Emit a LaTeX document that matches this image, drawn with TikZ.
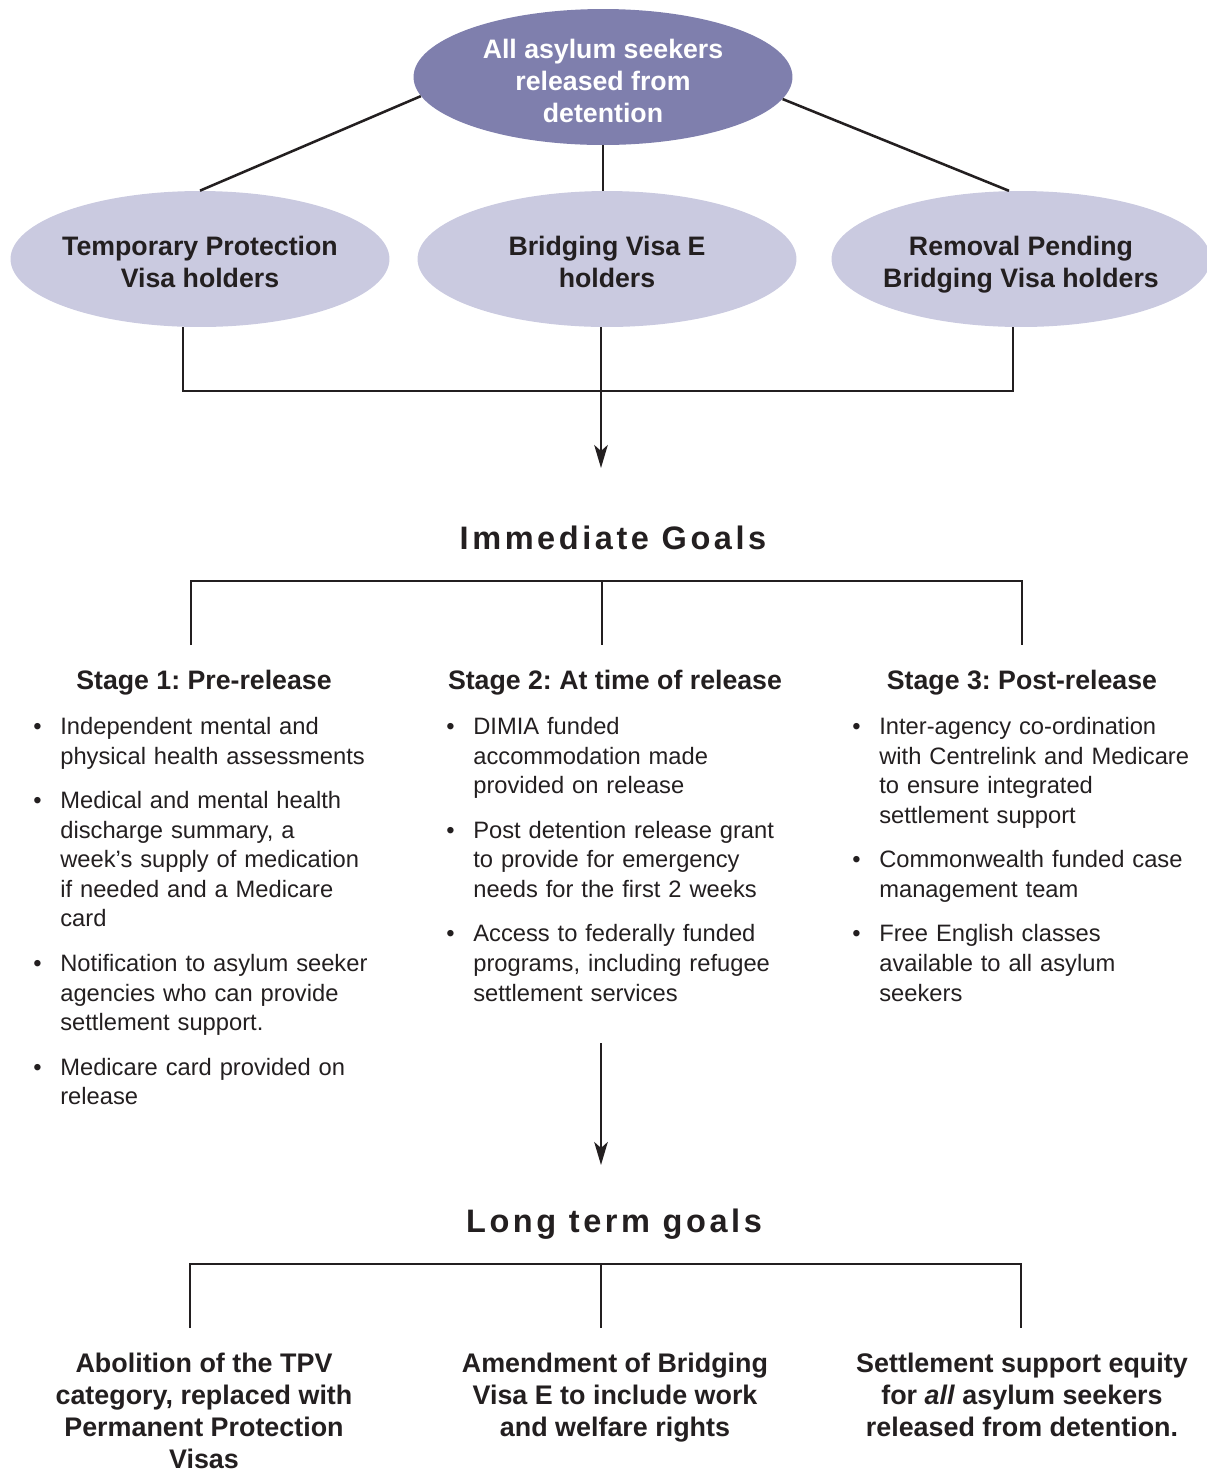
\documentclass[tikz,border=0pt]{standalone}
\usepackage{fontspec}
\setmainfont{Liberation Sans}
\newfontfamily\spacedfont[LetterSpace=11]{Liberation Sans}
\usepackage{enumitem}
\usetikzlibrary{shapes.geometric}
\usetikzlibrary{arrows.meta}
\frenchspacing

\definecolor{ovaldark}{HTML}{7F7FAD}
\definecolor{ovallight}{HTML}{CACAE0}
\definecolor{inkline}{HTML}{231F20}

\setlist[itemize]{label=\textbullet, leftmargin=0.54cm, labelwidth=0.54cm, labelsep=0pt, align=left,
  topsep=0pt, partopsep=0pt, parsep=0pt, itemsep=0.3cm}

\tikzset{
  oval/.style={ellipse, fill=#1, inner xsep=-8pt, inner ysep=0pt, minimum width=7.58cm, minimum height=2.72cm,
    align=center, text height=32.8pt, text depth=0pt, text=inkline,
    font=\fontsize{15.2}{18.3}\selectfont\bfseries},
  link/.style={draw=inkline, line width=1.45pt},
  godown/.style={link, -{Stealth[length=0.46cm, width=0.27cm, inset=0.12cm]}},
  goaltitle/.style={anchor=base, text=inkline, font=\fontsize{18.5}{22}\spacedfont\bfseries},
  stagehead/.style={anchor=base, text=inkline, font=\fontsize{15.2}{18.3}\selectfont\bfseries},
  stagelist/.style={anchor=north west, inner sep=0pt, text width=7.4cm, align=left, text=inkline,
    font=\fontsize{13.5}{16.8}\selectfont},
  longgoal/.style={anchor=north, inner sep=0pt, align=center, text=inkline,
    font=\fontsize{15.3}{18.2}\selectfont\bfseries},
}

\begin{document}
\begin{tikzpicture}[x=0.02cm, y=-0.02cm]
  \useasboundingbox (0,0) rectangle (1207,1472);

  % who is released
  \node[oval=ovaldark, text=white, text height=52.3pt] (released) at (603,77) {All asylum seekers\\released from\\detention};
  \node[oval=ovallight] (tpv) at (200,259) {Temporary Protection\\Visa holders};
  \node[oval=ovallight] (bve) at (607,259) {Bridging Visa E\\holders};
  \node[oval=ovallight] (rpbv) at (1021,259) {Removal Pending\\Bridging Visa holders};

  \draw[link] (released.186) -- (tpv.north);
  \draw[link] (released.south) -- (released.south |- bve.north);
  \draw[link] (released.-7) -- (rpbv.100);

  \coordinate (joinL) at (183,391);
  \coordinate (joinR) at (1013,391);
  \coordinate (tipA) at (601,468);
  \draw[link] (tpv.south -| joinL) -- (joinL) -- (joinR) -- (rpbv.south -| joinR);
  \draw[godown] (bve.south -| tipA) -- (tipA);

  % immediate goals
  \node[goaltitle] (immediate) at (613,549) {Immediate Goals};
  \coordinate (barL1) at (191,581);
  \coordinate (barR1) at (1022,581);
  \coordinate (stemL1) at (191,645);
  \coordinate (stemM1) at (602,645);
  \coordinate (stemR1) at (1022,645);
  \draw[link] (stemL1) -- (barL1) -- (barR1) -- (stemR1);
  \draw[link] (stemM1 |- barL1) -- (stemM1);

  \node[stagehead] (stage1) at (204,689) {Stage 1: Pre-release};
  \node[stagehead] (stage2) at (615,689) {Stage 2: At time of release};
  \node[stagehead] (stage3) at (1022,689) {Stage 3: Post-release};

  \node[stagelist] (list1) at (33,705) {\begin{itemize}
    \item Independent mental and\\physical health assessments
    \item Medical and mental health\\discharge summary, a\\week’s supply of medication\\if needed and a Medicare\\card
    \item Notification to asylum seeker\\agencies who can provide\\settlement support.
    \item Medicare card provided on\\release
  \end{itemize}};
  \node[stagelist] (list2) at (446,705) {\begin{itemize}
    \item DIMIA funded\\accommodation made\\provided on release
    \item Post detention release grant\\to provide for emergency\\needs for the first 2 weeks
    \item Access to federally funded\\programs, including refugee\\settlement services
  \end{itemize}};
  \node[stagelist] (list3) at (852,705) {\begin{itemize}
    \item Inter-agency co-ordination\\with Centrelink and Medicare\\to ensure integrated\\settlement support
    \item Commonwealth funded case\\management team
    \item Free English classes\\available to all asylum\\seekers
  \end{itemize}};

  \coordinate (tailB) at (601,1043);
  \coordinate (tipB) at (601,1165);
  \draw[godown] (tailB) -- (tipB);

  % long term goals
  \node[goaltitle] (longterm) at (614,1232) {Long term goals};
  \coordinate (barL2) at (190,1264);
  \coordinate (barR2) at (1021,1264);
  \coordinate (stemL2) at (190,1328);
  \coordinate (stemM2) at (601,1328);
  \coordinate (stemR2) at (1021,1328);
  \draw[link] (stemL2) -- (barL2) -- (barR2) -- (stemR2);
  \draw[link] (stemM2 |- barL2) -- (stemM2);

  \node[longgoal] (abolish) at (204,1353) {Abolition of the TPV\\category, replaced with\\Permanent Protection\\Visas};
  \node[longgoal] (amend) at (615,1353) {Amendment of Bridging\\Visa E to include work\\and welfare rights};
  \node[longgoal] (equity) at (1022,1353) {Settlement support equity\\for \textit{all} asylum seekers\\released from detention.};
\end{tikzpicture}
\end{document}
